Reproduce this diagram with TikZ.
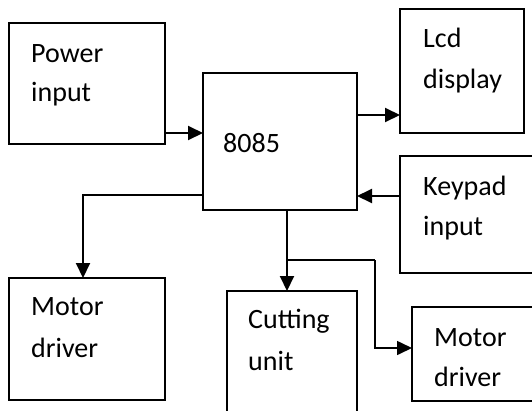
\documentclass[tikz,border=0pt]{standalone}
\usepackage{fontspec}
\setmainfont{Carlito}
\usetikzlibrary{arrows.meta}
\tikzset{
  box/.style={draw, line width=1.3pt, rectangle, inner sep=0pt, outer sep=0pt, anchor=north west},
  txt/.style={anchor=base west, inner sep=0pt, font=\fontsize{28}{40}\selectfont},
  arr/.style={line width=2pt, -{Triangle[length=15pt,width=14pt]}},
  thinline/.style={line width=1.5pt},
}
\begin{document}
\begin{tikzpicture}[x=1pt,y=-1pt]
\useasboundingbox (0,0) rectangle (532,410);
\clip (0,0) rectangle (532,410);
\fill[white] (0,0) rectangle (532,410);
% boxes
\node[box, minimum width=156pt, minimum height=121pt] (pw) at (9,23) {};
\node[box, minimum width=154pt, minimum height=137pt] (cpu) at (203,73) {};
\node[box, minimum width=124pt, minimum height=124pt] (lcd) at (400,9) {};
\node[box, minimum width=140pt, minimum height=117pt] (kp) at (400,156) {};
\node[box, minimum width=156pt, minimum height=122pt] (md1) at (9,278) {};
\node[box, minimum width=130pt, minimum height=130pt] (cut) at (227,291) {};
\node[box, minimum width=128pt, minimum height=94pt] (md2) at (412,307) {};
% texts
\node[txt] (t1a) at (31,62) {Power};
\node[txt] (t1b) at (31,101) {input};
\node[txt] (t2) at (223,152) {8085};
\node[txt] (t3a) at (423,47) {Lcd};
\node[txt] (t3b) at (423,88) {display};
\node[txt] (t4a) at (423,195) {Keypad};
\node[txt] (t4b) at (423,235) {input};
\node[txt] (t5a) at (31,315) {Motor};
\node[txt] (t5b) at (31,357) {driver};
\node[txt] (t6a) at (248,328) {Cutting};
\node[txt] (t6b) at (248,370) {unit};
\node[txt] (t7a) at (434,346) {Motor};
\node[txt] (t7b) at (434,386) {driver};
% connectors
\draw[arr] (pw.east |- 0,133) -- (cpu.west |- 0,133);
\draw[arr] (cpu.east |- 0,115) -- (lcd.west |- 0,115);
\draw[arr] (kp.west |- 0,196) -- (cpu.east |- 0,196);
\draw[arr] (cpu.west |- 0,195) -| (md1.north -| 83,0);
\draw[arr] (cpu.south -| 287,0) -- (cut.north -| 287,0);
\coordinate (br) at (287,260);
\coordinate (bend) at (375,260);
\draw[thinline] (br) -- (bend);
\draw[arr, line width=1.6pt] (bend) |- (md2.west |- 0,348);
\end{tikzpicture}
\end{document}
